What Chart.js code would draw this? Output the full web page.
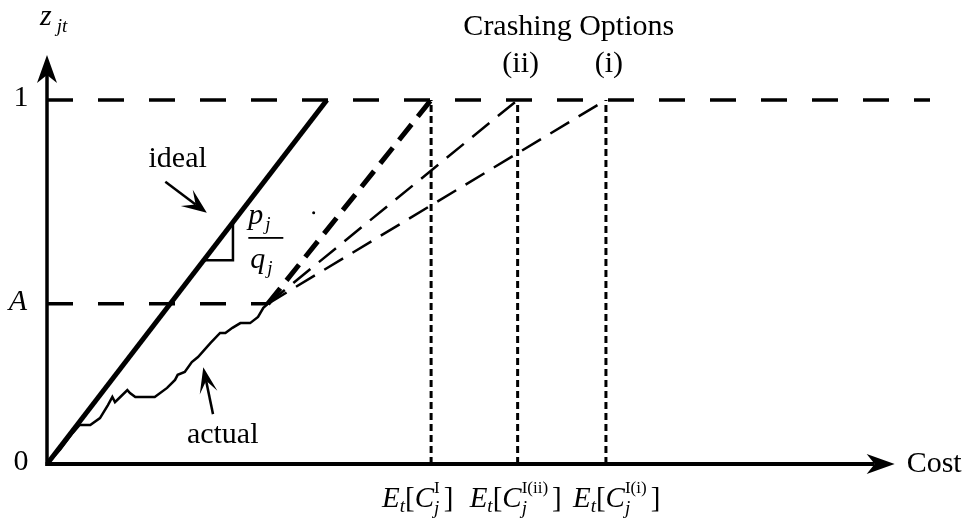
<!DOCTYPE html>
<html>
<head>
<meta charset="utf-8">
<script src="https://cdn.jsdelivr.net/npm/chart.js@4.4.1/dist/chart.umd.min.js"></script>
<style>html, body { margin: 0; padding: 0; background: #fff; }</style>
</head>
<body>
<canvas id="crashChart" width="974" height="524"></canvas>
<script>
// values: cost on x, completion z_jt on y
const idealCost = [0, 3.17];
const idealZ = [0, 1];
const actualCost = [0, 0.15, 0.29, 0.37, 0.49, 0.60, 0.69, 0.74, 0.77, 0.83, 0.91, 0.94, 1.00, 1.22, 1.36, 1.45, 1.48, 1.56, 1.64, 1.71, 1.85, 1.96, 2.02, 2.10, 2.19, 2.30, 2.39, 2.45, 2.50];
const actualZ = [0, 0.04, 0.085, 0.107, 0.107, 0.126, 0.162, 0.184, 0.170, 0.184, 0.203, 0.195, 0.184, 0.184, 0.209, 0.231, 0.245, 0.253, 0.280, 0.294, 0.332, 0.360, 0.360, 0.374, 0.387, 0.387, 0.404, 0.429, 0.44];
const levelA = 0.44;
const startCost = 2.50;
const crashCost = [4.35, 5.33, 6.33];
const crashSup = ['I', 'I(ii)', 'I(i)'];
const optionNames = ['', '(ii)', '(i)'];
const yTickValues = [0, levelA, 1];
const yTickLabels = ['0', 'A', '1'];
const slopeCost = [2.106, 2.106, 1.776];
const slopeZ = [0.664, 0.56, 0.56];
const costMax = 10;
const zMax = 1.118;
const axisEnd = 9.6;

const pts = (xs, ys) => xs.map((x, i) => ({ x: x, y: ys[i] }));
const line = (data, width, dash) => ({
  data: data, showLine: true, borderColor: '#000', borderWidth: width,
  borderDash: dash || [], pointRadius: 0, tension: 0, fill: false
});

const datasets = [
  line(pts(idealCost, idealZ), 5),
  line(pts(actualCost, actualZ), 2.5),
  line(pts([0, costMax], [1, 1]), 3.5, [26, 25]),
  line(pts([0, startCost], [levelA, levelA]), 3.5, [26, 25]),
  line(pts(slopeCost, slopeZ), 2.5)
];
crashCost.forEach((c, i) => {
  datasets.push(line(pts([startCost, c], [levelA, 1]), i === 0 ? 5 : 2.5, i === 0 ? [20, 10] : [22, 11]));
  datasets.push(line(pts([c, c], [0, 1]), 3, [7, 4]));
});
datasets.push({ data: [{ x: 3.02, y: 0.69 }], pointRadius: 1.5, backgroundColor: '#000', borderWidth: 0 });

const serif = (size, italic) => (italic ? 'italic ' : '') + size + 'px "Liberation Serif", "Times New Roman", serif';

// draws [text, size, italic, dy] runs in a row, returns end x
function runs(ctx, x, y, parts) {
  parts.forEach(p => {
    if (p.stack) {
      const a = runs(ctx, x, y, p.stack[0]);
      const b = runs(ctx, x, y, p.stack[1]);
      x = Math.max(a, b) + 4;
    } else {
      ctx.font = serif(p[1], p[2]);
      ctx.fillText(p[0], x, y + (p[3] || 0));
      x += ctx.measureText(p[0]).width;
    }
  });
  return x;
}

function arrowHead(ctx, tx, ty, fx, fy, len, half, notch) {
  const d = Math.hypot(tx - fx, ty - fy);
  const c = (tx - fx) / d, s = (ty - fy) / d;
  const bx = tx - len * c, by = ty - len * s;
  ctx.beginPath();
  ctx.moveTo(tx, ty);
  ctx.lineTo(bx - half * s, by + half * c);
  ctx.lineTo(tx - notch * c, ty - notch * s);
  ctx.lineTo(bx + half * s, by - half * c);
  ctx.closePath();
  ctx.fill();
}

function arrow(ctx, fx, fy, tx, ty, width, len, half, notch) {
  const d = Math.hypot(tx - fx, ty - fy);
  ctx.lineWidth = width;
  ctx.beginPath();
  ctx.moveTo(fx, fy);
  ctx.lineTo(tx - (tx - fx) / d * notch, ty - (ty - fy) / d * notch);
  ctx.stroke();
  arrowHead(ctx, tx, ty, fx, fy, len, half, notch);
}

const decorations = {
  id: 'decorations',
  afterDatasetsDraw(chart) {
    const ctx = chart.ctx;
    const sx = chart.scales.x, sy = chart.scales.y;
    const px = v => sx.getPixelForValue(v), py = v => sy.getPixelForValue(v);
    ctx.save();
    ctx.fillStyle = '#000';
    ctx.strokeStyle = '#000';
    ctx.lineCap = 'butt';

    // axes with arrow heads
    arrow(ctx, px(0), py(0) + 2, px(0), py(zMax) - 2, 3.5, 28, 10, 20);
    arrow(ctx, px(0) - 1.5, py(0), px(axisEnd), py(0), 4, 28, 10, 20);

    // annotation arrows
    arrow(ctx, px(1.34), py(0.775), px(1.81), py(0.69), 2.5, 25, 10, 14);
    arrow(ctx, px(1.88), py(0.137), px(1.77), py(0.266), 2.5, 26, 9, 14);

    ctx.textBaseline = 'alphabetic';
    ctx.textAlign = 'center';
    ctx.font = serif(30, false);
    ctx.fillText('Crashing Options', px((crashCost[1] + crashCost[2]) / 2) + 7, 35);
    optionNames.forEach((t, i) => { if (t) ctx.fillText(t, px(crashCost[i]) + 3, 72); });
    ctx.fillText('ideal', px(1.48), py(0.816));
    ctx.fillText('actual', px(1.99), py(0.058));

    // y tick labels
    ctx.textBaseline = 'middle';
    yTickValues.forEach((v, i) => {
      const it = yTickLabels[i] === 'A';
      ctx.font = serif(30, it);
      ctx.fillText(yTickLabels[i], px(0) - (it ? 29 : 26), py(v) - 2);
    });

    ctx.textAlign = 'left';
    ctx.font = serif(30, false);
    ctx.fillText('Cost', px(axisEnd) + 12, py(0));

    ctx.textBaseline = 'alphabetic';
    runs(ctx, 40, 25, [['z', 30, true, 0], ['  ', 10, false, 0], ['jt', 19, true, 7]]);

    // slope p_j / q_j
    const fx = px(2.28);
    const fEnd = runs(ctx, fx, 224, [['p', 30, true, 0], [' ', 8, false, 0], ['j', 19, true, 6]]);
    ctx.fillRect(fx, 237, Math.max(fEnd - fx, 34) + 1, 1.8);
    runs(ctx, fx + 2, 268, [['q', 30, true, 0], [' ', 8, false, 0], ['j', 19, true, 6]]);

    // expected cost labels under the dotted lines
    const shift = [49, 48, 33];
    crashCost.forEach((c, i) => {
      runs(ctx, px(c) - shift[i], 507, [
        ['E', 29, true, 0], ['t', 19, true, 5], ['[', 29, false, 0], ['C', 29, true, 0],
        { stack: [[[crashSup[i], 17, false, -14]], [['j', 19, true, 7]]] },
        [']', 29, false, 0]
      ]);
    });
    ctx.restore();
  }
};

new Chart(document.getElementById('crashChart'), {
  type: 'scatter',
  data: { datasets: datasets },
  options: {
    responsive: false,
    animation: false,
    layout: { padding: { left: 47, right: 44, top: 57, bottom: 60 } },
    plugins: { legend: { display: false }, tooltip: { enabled: false } },
    scales: {
      x: { type: 'linear', min: 0, max: costMax, display: false },
      y: { type: 'linear', min: 0, max: zMax, display: false }
    }
  },
  plugins: [decorations]
});
</script>
</body>
</html>
